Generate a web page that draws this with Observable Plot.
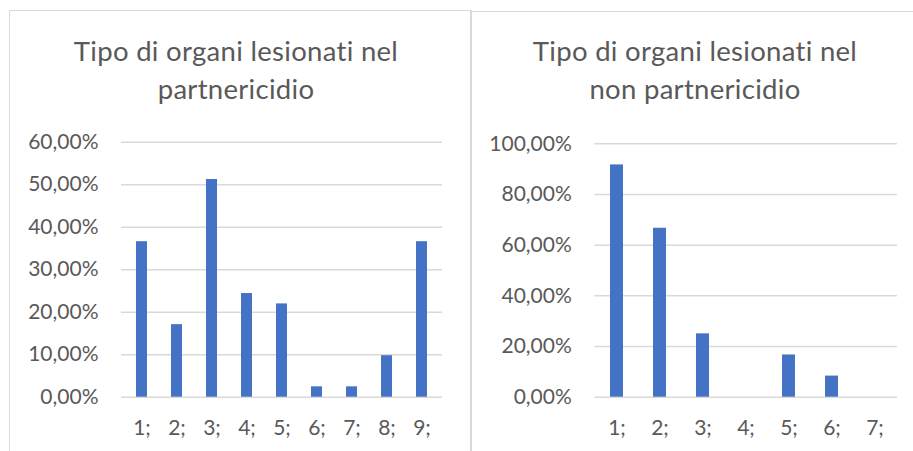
<!DOCTYPE html>
<html lang="it">
<head>
<meta charset="utf-8">
<script src="https://cdn.jsdelivr.net/npm/d3@7"></script>
<script src="https://cdn.jsdelivr.net/npm/@observablehq/plot@0.6"></script>
<style>
  html, body { margin: 0; padding: 0; background: #fff; }
  #wrap { position: relative; width: 913px; height: 451px; overflow: hidden; background: #fff; font-family: Lato, "Open Sans", sans-serif; color: #595959; }
  .frame { position: absolute; box-sizing: border-box; }
  .title { position: absolute; text-align: center; font-size: 27.5px; font-weight: 400; letter-spacing: 0.3px; line-height: 38px; color: #595959; white-space: nowrap; }
  .chart { position: absolute; top: 0; }
</style>
</head>
<body>
<div id="wrap">
  <div class="frame" style="left:9px;top:10px;width:463px;height:460px;border-top:1px solid #d9d9d9;border-left:1px solid #d9d9d9;border-right:2px solid #d9d9d9;"></div>
  <div class="frame" style="left:472px;top:11px;width:441px;height:460px;border-top:1.5px solid #d9d9d9;"></div>
  <div class="title" style="left:9px;top:32px;width:454px;">Tipo di organi lesionati nel<br>partnericidio</div>
  <div class="title" style="left:472px;top:32px;width:446px;">Tipo di organi lesionati nel<br>non partnericidio</div>
  <div class="chart" id="left" style="left:0px;"></div>
  <div class="chart" id="right" style="left:472px;"></div>
</div>
<script>
// Categories (organ types) and shares for the two groups
const partnerLabels = ["1;", "2;", "3;", "4;", "5;", "6;", "7;", "8;", "9;"];
const partnerValues = [0.3659, 0.1707, 0.5122, 0.2439, 0.2195, 0.0244, 0.0244, 0.0976, 0.3659];
const partnerTicks = [0, 0.1, 0.2, 0.3, 0.4, 0.5, 0.6];

const nonPartnerLabels = ["1;", "2;", "3;", "4;", "5;", "6;", "7;"];
const nonPartnerValues = [0.9167, 0.6667, 0.25, 0, 0.1667, 0.0833, 0];
const nonPartnerTicks = [0, 0.2, 0.4, 0.6, 0.8, 1];

// Italian number format: "60,00%"
const it = d3.formatLocale({decimal: ",", thousands: ".", grouping: [3], currency: ["€", ""]});
const pct = it.format(".2%");

const barColor = "#4472C4";
const gridColor = "#d9d9d9";

function columnChart({labels, values, ticks, width, marginLeft, marginRight, marginTop, yMax}) {
  const data = labels.map((label, i) => ({label, value: values[i]}));
  return Plot.plot({
    width,
    height: 451,
    marginTop,
    marginBottom: 54.3,
    marginLeft,
    marginRight,
    style: {background: "transparent", color: "#595959", fontFamily: "Lato, 'Open Sans', sans-serif", fontSize: "21px"},
    x: {domain: labels, paddingInner: 0.69, paddingOuter: 0.345, label: null},
    y: {domain: [0, yMax], label: null},
    marks: [
      Plot.gridY(ticks, {stroke: gridColor, strokeOpacity: 1, strokeWidth: 1.5}),
      Plot.barY(data, {x: "label", y: "value", fill: barColor}),
      Plot.axisY(ticks, {tickSize: 0, tickPadding: 23, tickFormat: pct, fontSize: 21}),
      Plot.axisX({tickSize: 0, tickPadding: 23, fontSize: 21})
    ]
  });
}

document.getElementById("left").append(columnChart({
  labels: partnerLabels, values: partnerValues, ticks: partnerTicks,
  width: 470, marginLeft: 121, marginRight: 28, marginTop: 141.7, yMax: 0.6
}));

document.getElementById("right").append(columnChart({
  labels: nonPartnerLabels, values: nonPartnerValues, ticks: nonPartnerTicks,
  width: 441, marginLeft: 122.3, marginRight: 16, marginTop: 143.3, yMax: 1
}));
</script>
</body>
</html>
